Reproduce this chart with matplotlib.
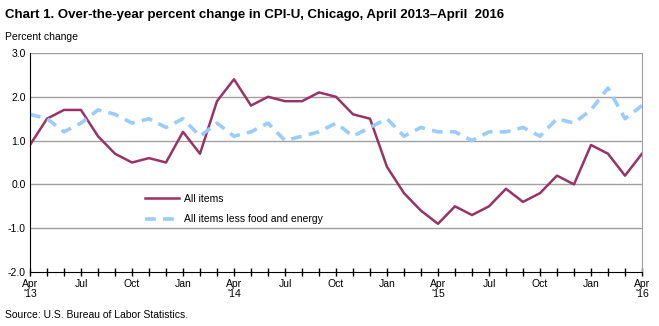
import matplotlib
matplotlib.use("Agg")
import matplotlib.pyplot as plt
import numpy as np

plt.rcParams['font.family'] = ['Liberation Sans', 'DejaVu Sans']

months = ["Apr\n'13", "May", "Jun", "Jul", "Aug", "Sep", "Oct", "Nov", "Dec",
          "Jan", "Feb", "Mar", "Apr\n'14", "May", "Jun", "Jul", "Aug", "Sep", "Oct", "Nov", "Dec",
          "Jan", "Feb", "Mar", "Apr\n'15", "May", "Jun", "Jul", "Aug", "Sep", "Oct", "Nov", "Dec",
          "Jan", "Feb", "Mar", "Apr\n'16"]
all_items = [0.9, 1.5, 1.7, 1.7, 1.1, 0.7, 0.5, 0.6, 0.5, 1.2, 0.7, 1.9,
             2.4, 1.8, 2.0, 1.9, 1.9, 2.1, 2.0, 1.6, 1.5, 0.4, -0.2, -0.6,
             -0.9, -0.5, -0.7, -0.5, -0.1, -0.4, -0.2, 0.2, 0.0, 0.9, 0.7, 0.2, 0.7]
core = [1.6, 1.5, 1.2, 1.4, 1.7, 1.6, 1.4, 1.5, 1.3, 1.5, 1.1, 1.4,
        1.1, 1.2, 1.4, 1.0, 1.1, 1.2, 1.4, 1.1, 1.3, 1.5, 1.1, 1.3,
        1.2, 1.2, 1.0, 1.2, 1.2, 1.3, 1.1, 1.5, 1.4, 1.7, 2.2, 1.5, 1.8]
yticks = [-2.0, -1.0, 0.0, 1.0, 2.0, 3.0]

fig = plt.figure(figsize=(6.59, 3.26), dpi=100)
ax = fig.add_axes([30/659, 1-272/326, (642-30)/659, (272-53)/326])
x = np.arange(len(months))
ax.plot(x, all_items, color='#993366', lw=1.8, label='All items')
ax.plot(x, core, color='#99CCFF', lw=2.6, ls=(0, (3, 2)), label='All items less food and energy')

ax.set_xlim(0, len(months)-1)
ax.set_ylim(-2, 3)
ax.set_yticks(yticks)
ax.set_yticklabels([f"{v:.1f}" for v in yticks], fontsize=7.5)
for v in yticks[1:]:
    ax.axhline(v, color='#a0a0a0', lw=1, zorder=0)
major = x[::3]
ax.set_xticks(major)
ax.set_xticklabels([months[i] for i in major], fontsize=7.5, linespacing=1.0)
ax.set_xticks(x, minor=True)
ax.tick_params(axis='x', which='both', direction='inout', length=6, width=1, color='black', pad=2)
ax.tick_params(axis='y', length=0, pad=3)
ax.spines['left'].set_color('black')
ax.spines['bottom'].set_color('black')
ax.spines['right'].set_color('#a0a0a0')
ax.spines['top'].set_visible(False)

leg = ax.legend(loc='upper left', bbox_to_anchor=(0.172, 0.40), frameon=False, fontsize=7.5,
                handlelength=3.3, labelspacing=1.0, handletextpad=0.5)

fig.text(5/659, 1-15/326, "Chart 1. Over-the-year percent change in CPI-U, Chicago, April 2013\u2013April  2016",
         fontsize=9.5, fontweight='bold', va='center', ha='left')
fig.text(5/659, 1-37/326, "Percent change", fontsize=7.5, va='center', ha='left')
fig.text(5/659, 1-315/326, "Source: U.S. Bureau of Labor Statistics.", fontsize=7.5, va='center', ha='left')

fig.savefig("out.png", dpi=100)
